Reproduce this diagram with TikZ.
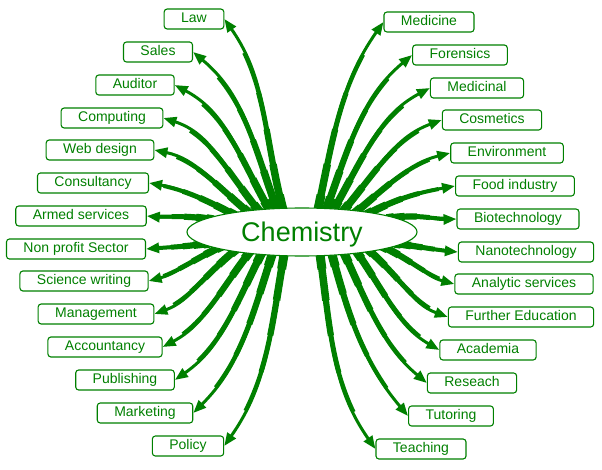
\documentclass[tikz,border=0pt]{standalone}
\usepackage{fontspec}
\setmainfont{Liberation Sans}
\usetikzlibrary{shapes.geometric,arrows.meta,backgrounds}
\definecolor{chemgreen}{RGB}{0,128,0}
\tikzset{
    job/.style={draw=chemgreen, line width=1.1pt, rounded corners=3pt, fill=white,
        text=chemgreen, font=\fontsize{14}{16}\selectfont, minimum height=20pt,
        inner xsep=17pt, inner ysep=0pt, text height=10pt, text depth=3pt},
    % tapered arrow, #1 = rough length of the path
    branch/.style={chemgreen, line width=3pt, -{Triangle[length=13pt,width=10pt]},
        shorten <=-8pt,
        preaction={draw, chemgreen, -, line width=4pt, dash pattern=on 0.8*#1pt off 3000pt},
        preaction={draw, chemgreen, -, line width=5pt, dash pattern=on 0.6*#1pt off 3000pt},
        preaction={draw, chemgreen, -, line width=6.2pt, dash pattern=on 0.42*#1pt off 3000pt},
        preaction={draw, chemgreen, -, line width=7.5pt, dash pattern=on 0.25*#1pt off 3000pt},
        preaction={draw, chemgreen, -, line width=9pt, dash pattern=on 0.1*#1pt off 3000pt}},
}

\begin{document}
\begin{tikzpicture}[x=1pt,y=1pt]
        \useasboundingbox (0,0) rectangle (602,-470);
        % centre ellipse
        \node[ellipse, draw=chemgreen, line width=1.1pt, fill=white, minimum width=230pt,
            minimum height=48pt, inner sep=0pt, text=chemgreen, text depth=0pt,
            font=\fontsize{27}{30}\selectfont] (chem) at (302,-232) {Chemistry\hspace{10pt}};

        % left boxes
        \node[job] (law) at (194,-19) {Law};
        \node[job] (sales) at (158,-52) {Sales};
        \node[job] (auditor) at (135,-85) {Auditor};
        \node[job] (computing) at (112,-118) {Computing};
        \node[job] (webdesign) at (100,-150) {Web design};
        \node[job] (consultancy) at (93,-183) {Consultancy};
        \node[job] (armed) at (81,-216) {Armed services};
        \node[job] (nonprofit) at (76,-249) {Non profit Sector};
        \node[job] (scwriting) at (84,-281) {Science writing};
        \node[job] (management) at (96,-314) {Management};
        \node[job] (accountancy) at (105,-347) {Accountancy};
        \node[job] (publishing) at (125,-380) {Publishing};
        \node[job] (marketing) at (145,-413) {Marketing};
        \node[job] (policy) at (188,-446) {Policy};

        % right boxes
        \node[job] (medicine) at (429,-22) {Medicine};
        \node[job] (forensics) at (460,-55) {Forensics};
        \node[job] (medicinal) at (477,-88) {Medicinal};
        \node[job] (cosmetics) at (492,-120) {Cosmetics};
        \node[job] (environment) at (507,-153) {Environment};
        \node[job] (food) at (515,-186) {Food industry};
        \node[job] (biotech) at (518,-219) {Biotechnology};
        \node[job] (nanotech) at (526,-252) {Nanotechnology};
        \node[job] (analytic) at (524,-284) {Analytic services};
        \node[job] (furthered) at (521,-317) {Further Education};
        \node[job] (academia) at (488,-350) {Academia};
        \node[job] (reseach) at (472,-383) {Reseach};
        \node[job] (tutoring) at (451,-416) {Tutoring};
        \node[job] (teaching) at (421,-449) {Teaching};

        \begin{scope}[on background layer]
            % arrows to the left
            \draw[branch=210] (chem.129) to[out=105,in=-55] (law.east);
            \draw[branch=190] (chem.137) to[out=110,in=-40] (sales.east);
            \draw[branch=165] (chem.145) to[out=120,in=-28] (auditor.east);
            \draw[branch=140] (chem.153) to[out=130,in=-18] (computing.east);
            \draw[branch=120] (chem.159) to[out=140,in=-12] (webdesign.east);
            \draw[branch=100] (chem.165) to[out=152,in=-10] (consultancy.east);
            \draw[branch=70] (chem.172) to[out=170,in=-5] (armed.east);
            \draw[branch=65] (chem.187) to[out=188,in=5] (nonprofit.east);
            \draw[branch=85] (chem.191) to[out=205,in=15] (scwriting.east);
            \draw[branch=110] (chem.196) to[out=218,in=20] (management.east);
            \draw[branch=140] (chem.202) to[out=232,in=28] (accountancy.east);
            \draw[branch=165] (chem.209) to[out=243,in=35] (publishing.east);
            \draw[branch=190] (chem.218) to[out=252,in=45] (marketing.east);
            \draw[branch=210] (chem.233) to[out=260,in=55] (policy.east);

            % arrows to the right
            \draw[branch=210] (chem.56) to[out=78,in=-125] (medicine.west);
            \draw[branch=190] (chem.44) to[out=70,in=-140] (forensics.west);
            \draw[branch=165] (chem.36) to[out=60,in=-152] (medicinal.west);
            \draw[branch=145] (chem.28) to[out=50,in=-160] (cosmetics.west);
            \draw[branch=120] (chem.21) to[out=40,in=-166] (environment.west);
            \draw[branch=100] (chem.16) to[out=28,in=-170] (food.west);
            \draw[branch=72] (chem.9) to[out=10,in=-178] (biotech.west);
            \draw[branch=68] (chem.-7) to[out=-8,in=175] (nanotech.west);
            \draw[branch=85] (chem.-11) to[out=-25,in=165] (analytic.west);
            \draw[branch=112] (chem.-16) to[out=-40,in=160] (furthered.west);
            \draw[branch=140] (chem.-21) to[out=-55,in=150] (academia.west);
            \draw[branch=165] (chem.-28) to[out=-65,in=140] (reseach.west);
            \draw[branch=190] (chem.-38) to[out=-75,in=130] (tutoring.west);
            \draw[branch=210] (chem.-53) to[out=-82,in=125] (teaching.west);
        \end{scope}
\end{tikzpicture}
\end{document}
